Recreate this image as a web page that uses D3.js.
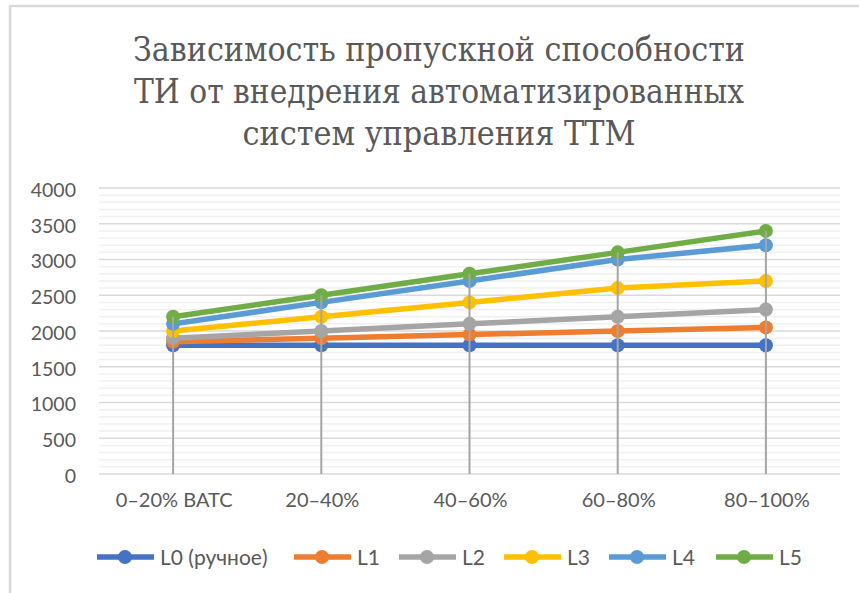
<!DOCTYPE html>
<html>
<head>
<meta charset="utf-8">
<script src="https://cdnjs.cloudflare.com/ajax/libs/d3/7.8.5/d3.min.js"></script>
<style>
  body { margin: 0; background: #fff; }
  svg { display: block; }
</style>
</head>
<body>
<svg id="chart" width="859" height="593"></svg>
<script>
// chart data
var categories = ["0–20% ВАТС", "20–40%", "40–60%", "60–80%", "80–100%"];
var seriesNames = ["L0 (ручное)", "L1", "L2", "L3", "L4", "L5"];
var seriesColors = ["#4472c4", "#ed7d31", "#a5a5a5", "#ffc000", "#5b9bd5", "#70ad47"];
var L0 = [1800, 1800, 1800, 1800, 1800];
var L1 = [1850, 1900, 1950, 2000, 2050];
var L2 = [1900, 2000, 2100, 2200, 2300];
var L3 = [2000, 2200, 2400, 2600, 2700];
var L4 = [2100, 2400, 2700, 3000, 3200];
var L5 = [2200, 2500, 2800, 3100, 3400];
var yTicks = [0, 500, 1000, 1500, 2000, 2500, 3000, 3500, 4000];
var titleLines = ["Зависимость пропускной способности",
                  "ТИ от внедрения автоматизированных",
                  "систем управления ТТМ"];

var allSeries = [L0, L1, L2, L3, L4, L5];

var svg = d3.select("#chart");
var textColor = "#595959";
var labelFont = "Lato, 'Open Sans', sans-serif";

// outer frame (only top and left edges are visible in the crop)
svg.append("rect")
    .attr("x", 10).attr("y", 6)
    .attr("width", 870).attr("height", 620)
    .attr("fill", "none")
    .attr("stroke", "#d9d9d9")
    .attr("stroke-width", 2.5);

// title, squeezed to the width of the original condensed serif
var titleWidths = [612, 610, 393];
svg.append("g").selectAll("text")
    .data(titleLines)
    .enter().append("text")
    .attr("x", 439)
    .attr("y", function (d, i) { return 61 + i * 42; })
    .attr("text-anchor", "middle")
    .attr("textLength", function (d, i) { return titleWidths[i]; })
    .attr("lengthAdjust", "spacingAndGlyphs")
    .style("font-family", "'DejaVu Serif', serif")
    .style("font-size", "33px")
    .attr("fill", textColor)
    .text(function (d) { return d; });

var x = d3.scaleBand().domain(categories).range([99, 840]);
var y = d3.scaleLinear().domain([0, 4000]).range([474, 188]);

// minor gridlines every 100
var minor = d3.range(0, 4001, 100).filter(function (v) { return v % 500 !== 0; });
svg.append("g").selectAll("line")
    .data(minor)
    .enter().append("line")
    .attr("x1", 99).attr("x2", 840)
    .attr("y1", function (d) { return y(d); })
    .attr("y2", function (d) { return y(d); })
    .attr("stroke", "#f0f0f0")
    .attr("stroke-width", 1.5);

// major gridlines
svg.append("g").selectAll("line")
    .data(yTicks)
    .enter().append("line")
    .attr("x1", 99).attr("x2", 840)
    .attr("y1", function (d) { return y(d); })
    .attr("y2", function (d) { return y(d); })
    .attr("stroke", "#d9d9d9")
    .attr("stroke-width", 1.5);

// y axis labels
var yAxis = svg.append("g")
    .attr("transform", "translate(76,2)")
    .call(d3.axisLeft(y).tickValues(yTicks).tickFormat(d3.format("d")).tickSize(0).tickPadding(0));
yAxis.select(".domain").remove();
yAxis.selectAll("text")
    .attr("font-family", labelFont)
    .attr("font-size", 19.5)
    .attr("fill", textColor);

// x axis labels
var xAxis = svg.append("g")
    .attr("transform", "translate(1,493)")
    .call(d3.axisBottom(x).tickSize(0).tickPadding(0));
xAxis.select(".domain").remove();
xAxis.selectAll("text")
    .attr("font-family", labelFont)
    .attr("font-size", 20)
    .attr("fill", textColor);

function cx(i) { return x(categories[i]) + x.bandwidth() / 2; }

var line = d3.line()
    .x(function (d, i) { return cx(i); })
    .y(function (d) { return y(d); });

var groups = svg.append("g").selectAll("g")
    .data(allSeries)
    .enter().append("g");

groups.append("path")
    .attr("d", function (d) { return line(d); })
    .attr("fill", "none")
    .attr("stroke", function (d, i) { return seriesColors[i]; })
    .attr("stroke-width", 5.5)
    .attr("stroke-linejoin", "round");

groups.each(function (s, si) {
    d3.select(this).selectAll("circle")
        .data(s)
        .enter().append("circle")
        .attr("cx", function (d, i) { return cx(i); })
        .attr("cy", function (d) { return y(d); })
        .attr("r", 7)
        .attr("fill", seriesColors[si]);
});

// drop lines from the top series down to the axis, drawn over the markers
svg.append("g").selectAll("line")
    .data(categories)
    .enter().append("line")
    .attr("x1", function (d, i) { return cx(i); })
    .attr("x2", function (d, i) { return cx(i); })
    .attr("y1", function (d, i) { return y(d3.max(allSeries, function (s) { return s[i]; })); })
    .attr("y2", y(0))
    .attr("stroke", "#a5a5a5")
    .attr("stroke-width", 2);

// legend
var legendX = [97, 294, 399, 504, 609, 716];
var legend = svg.append("g").selectAll("g")
    .data(seriesNames)
    .enter().append("g")
    .attr("transform", function (d, i) { return "translate(" + legendX[i] + ",557)"; });

legend.append("line")
    .attr("x1", 0).attr("x2", 57)
    .attr("y1", 0).attr("y2", 0)
    .attr("stroke", function (d, i) { return seriesColors[i]; })
    .attr("stroke-width", 5.5);
legend.append("circle")
    .attr("cx", 28).attr("cy", 0).attr("r", 7)
    .attr("fill", function (d, i) { return seriesColors[i]; });
legend.append("text")
    .attr("x", 63).attr("y", 7.5)
    .attr("font-family", labelFont)
    .attr("font-size", 21)
    .attr("fill", textColor)
    .text(function (d) { return d; });
</script>
</body>
</html>
